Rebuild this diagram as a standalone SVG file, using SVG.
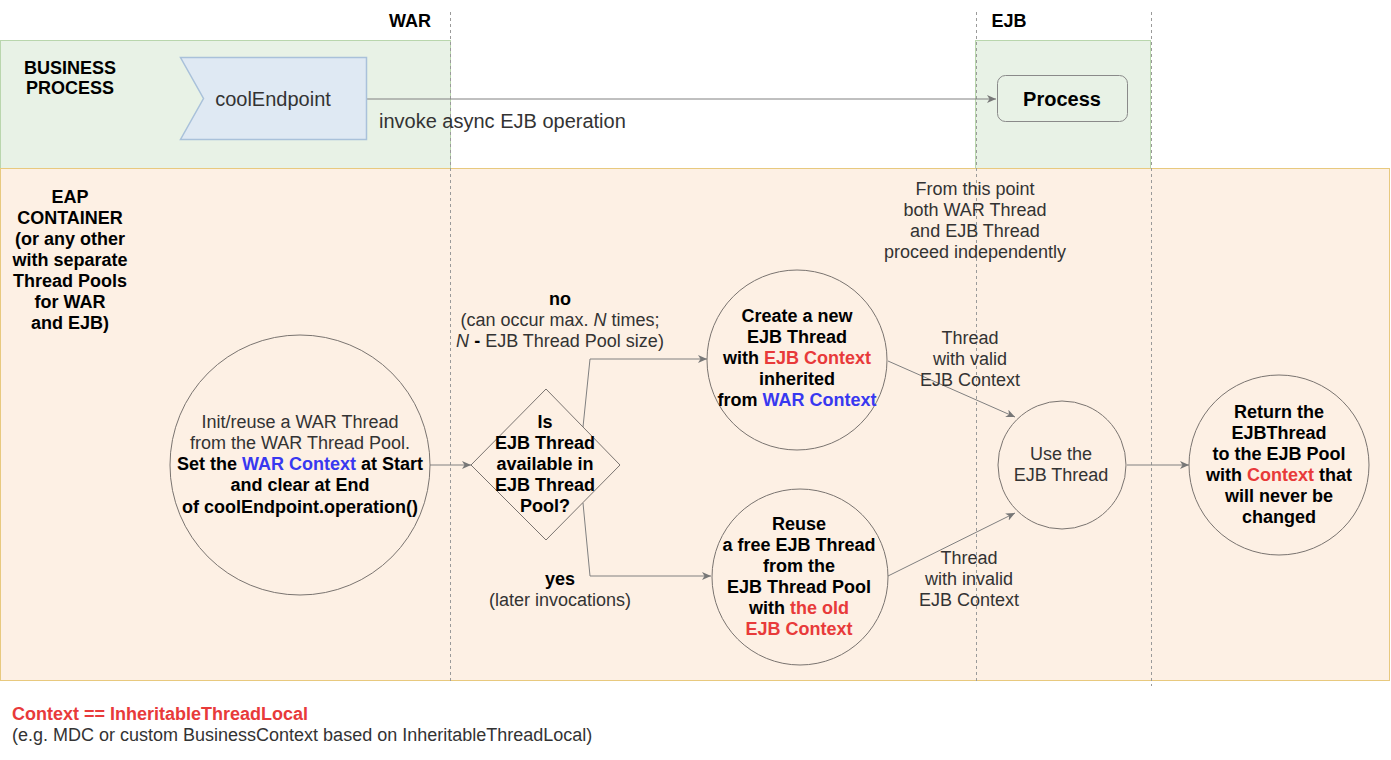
<svg xmlns="http://www.w3.org/2000/svg" width="1391" height="760" viewBox="0 0 1391 760">
<defs>
<marker id="arr" markerWidth="10" markerHeight="8" refX="9" refY="4" orient="auto" markerUnits="userSpaceOnUse">
<path d="M0,0 L9,4 L0,8 L2.5,4 Z" fill="#777"/>
</marker>
</defs>
<style>
text{font-family:"Liberation Sans",Arial,sans-serif;font-size:18px;fill:#333;text-anchor:middle}
.b{font-weight:bold;fill:#000}
.big{font-size:20px}
.red{fill:#e83a3a}
.blue{fill:#3838f0}
.node{fill:none;stroke:#7a7470;stroke-width:1}
.conn{fill:none;stroke:#808080;stroke-width:1;marker-end:url(#arr)}
.dash{stroke:#9a9a9a;stroke-width:1;stroke-dasharray:3,3}
</style>
<g id="lanes">
<rect x="0.5" y="40.5" width="450" height="128" fill="#e8f2e6" stroke="#b9d6ad"/>
<rect x="975.5" y="40.5" width="175" height="128" fill="#e8f2e6" stroke="#b9d6ad"/>
<rect x="0.5" y="168.5" width="1389" height="512" fill="#fdf0e4" stroke="#e8c97e"/>
<line class="dash" x1="450.5" y1="12" x2="450.5" y2="684"/>
<line class="dash" x1="976.5" y1="12" x2="976.5" y2="681"/>
<line class="dash" x1="1151.5" y1="12" x2="1151.5" y2="686"/>
<text class="b" x="410" y="27">WAR</text>
<text class="b" x="1009" y="27">EJB</text>
<text class="b" x="70" y="74">BUSINESS</text>
<text class="b" x="70" y="94">PROCESS</text>
<text class="b" x="70"><tspan x="70" y="203">EAP</tspan><tspan x="70" y="224">CONTAINER</tspan><tspan x="70" y="245">(or any other</tspan><tspan x="70" y="266">with separate</tspan><tspan x="70" y="287">Thread Pools</tspan><tspan x="70" y="308">for WAR</tspan><tspan x="70" y="329">and EJB)</tspan></text>
</g>
<g id="connectors">
<path class="conn" d="M366,99 L996,99"/>
<path class="conn" d="M430,465 L471,465"/>
<path class="conn" d="M583,427 L590,359 L707,359"/>
<path class="conn" d="M583,503 L590,576 L711,576"/>
<path class="conn" d="M888,361 L1015,417"/>
<path class="conn" d="M888,576 L1015,513"/>
<path class="conn" d="M1127,465 L1189,465"/>
<text class="big" x="379" y="128" style="text-anchor:start">invoke async EJB operation</text>
<text class="b" x="560" y="305">no</text>
<text x="560" y="326">(can occur max. <tspan font-style="italic">N</tspan> times;</text>
<text x="560" y="347"><tspan font-style="italic">N</tspan> <tspan class="b">-</tspan> EJB Thread Pool size)</text>
<text class="b" x="560" y="585">yes</text>
<text x="560" y="606">(later invocations)</text>
<text x="970"><tspan x="970" y="344">Thread</tspan><tspan x="970" y="365">with valid</tspan><tspan x="970" y="386">EJB Context</tspan></text>
<text x="969"><tspan x="969" y="564">Thread</tspan><tspan x="969" y="585">with invalid</tspan><tspan x="969" y="606">EJB Context</tspan></text>
<text x="975"><tspan x="975" y="195">From this point</tspan><tspan x="975" y="216">both WAR Thread</tspan><tspan x="975" y="237">and EJB Thread</tspan><tspan x="975" y="258">proceed independently</tspan></text>
</g>
<g id="coolEndpoint">
<polygon points="180.5,57.5 366.5,57.5 366.5,139.5 180.5,139.5 203.5,98.5" fill="#dfe9f3" stroke="#a9c1da" stroke-width="1.5"/>
<text class="big" x="273" y="106">coolEndpoint</text>
</g>
<g id="process">
<rect x="997.5" y="75.5" width="130" height="46" rx="8" fill="#e8f2e6" stroke="#8a8a8a"/>
<text class="b big" x="1062" y="106">Process</text>
</g>
<g id="warThread">
<circle class="node" cx="300" cy="465" r="130"/>
<text x="300" y="428">Init/reuse a WAR Thread</text>
<text x="300" y="449">from the WAR Thread Pool.</text>
<text class="b" x="300" y="470">Set the <tspan class="blue">WAR Context</tspan> at Start</text>
<text class="b" x="300" y="491">and clear at End</text>
<text class="b" x="300" y="513">of coolEndpoint.operation()</text>
</g>
<g id="decision">
<polygon class="node" points="471,465 546,389 620,465 546,540"/>
<text class="b" x="545"><tspan x="545" y="428">Is</tspan><tspan x="545" y="449">EJB Thread</tspan><tspan x="545" y="470">available in</tspan><tspan x="545" y="491">EJB Thread</tspan><tspan x="545" y="512">Pool?</tspan></text>
</g>
<g id="createThread">
<circle class="node" cx="797" cy="360" r="90"/>
<text class="b" x="797" y="322">Create a new</text>
<text class="b" x="797" y="343">EJB Thread</text>
<text class="b" x="797" y="364">with <tspan class="red">EJB Context</tspan></text>
<text class="b" x="797" y="385">inherited</text>
<text class="b" x="797" y="406">from <tspan class="blue">WAR Context</tspan></text>
</g>
<g id="reuseThread">
<circle class="node" cx="800" cy="577" r="88"/>
<text class="b" x="799" y="530">Reuse</text>
<text class="b" x="799" y="551">a free EJB Thread</text>
<text class="b" x="799" y="572">from the</text>
<text class="b" x="799" y="593">EJB Thread Pool</text>
<text class="b" x="799" y="614">with <tspan class="red">the old</tspan></text>
<text class="b red" x="799" y="635">EJB Context</text>
</g>
<g id="useThread">
<circle class="node" cx="1062" cy="465" r="64"/>
<text x="1061" y="460">Use the</text>
<text x="1061" y="481">EJB Thread</text>
</g>
<g id="returnThread">
<circle class="node" cx="1279" cy="465" r="90"/>
<text class="b" x="1279" y="418">Return the</text>
<text class="b" x="1279" y="439">EJBThread</text>
<text class="b" x="1279" y="460">to the EJB Pool</text>
<text class="b" x="1279" y="481">with <tspan class="red">Context</tspan> that</text>
<text class="b" x="1279" y="502">will never be</text>
<text class="b" x="1279" y="523">changed</text>
</g>
<g id="legend">
<text class="b red" x="12" y="720" style="text-anchor:start">Context == InheritableThreadLocal</text>
<text x="12" y="741" style="text-anchor:start">(e.g. MDC or custom BusinessContext based on InheritableThreadLocal)</text>
</g>
</svg>
